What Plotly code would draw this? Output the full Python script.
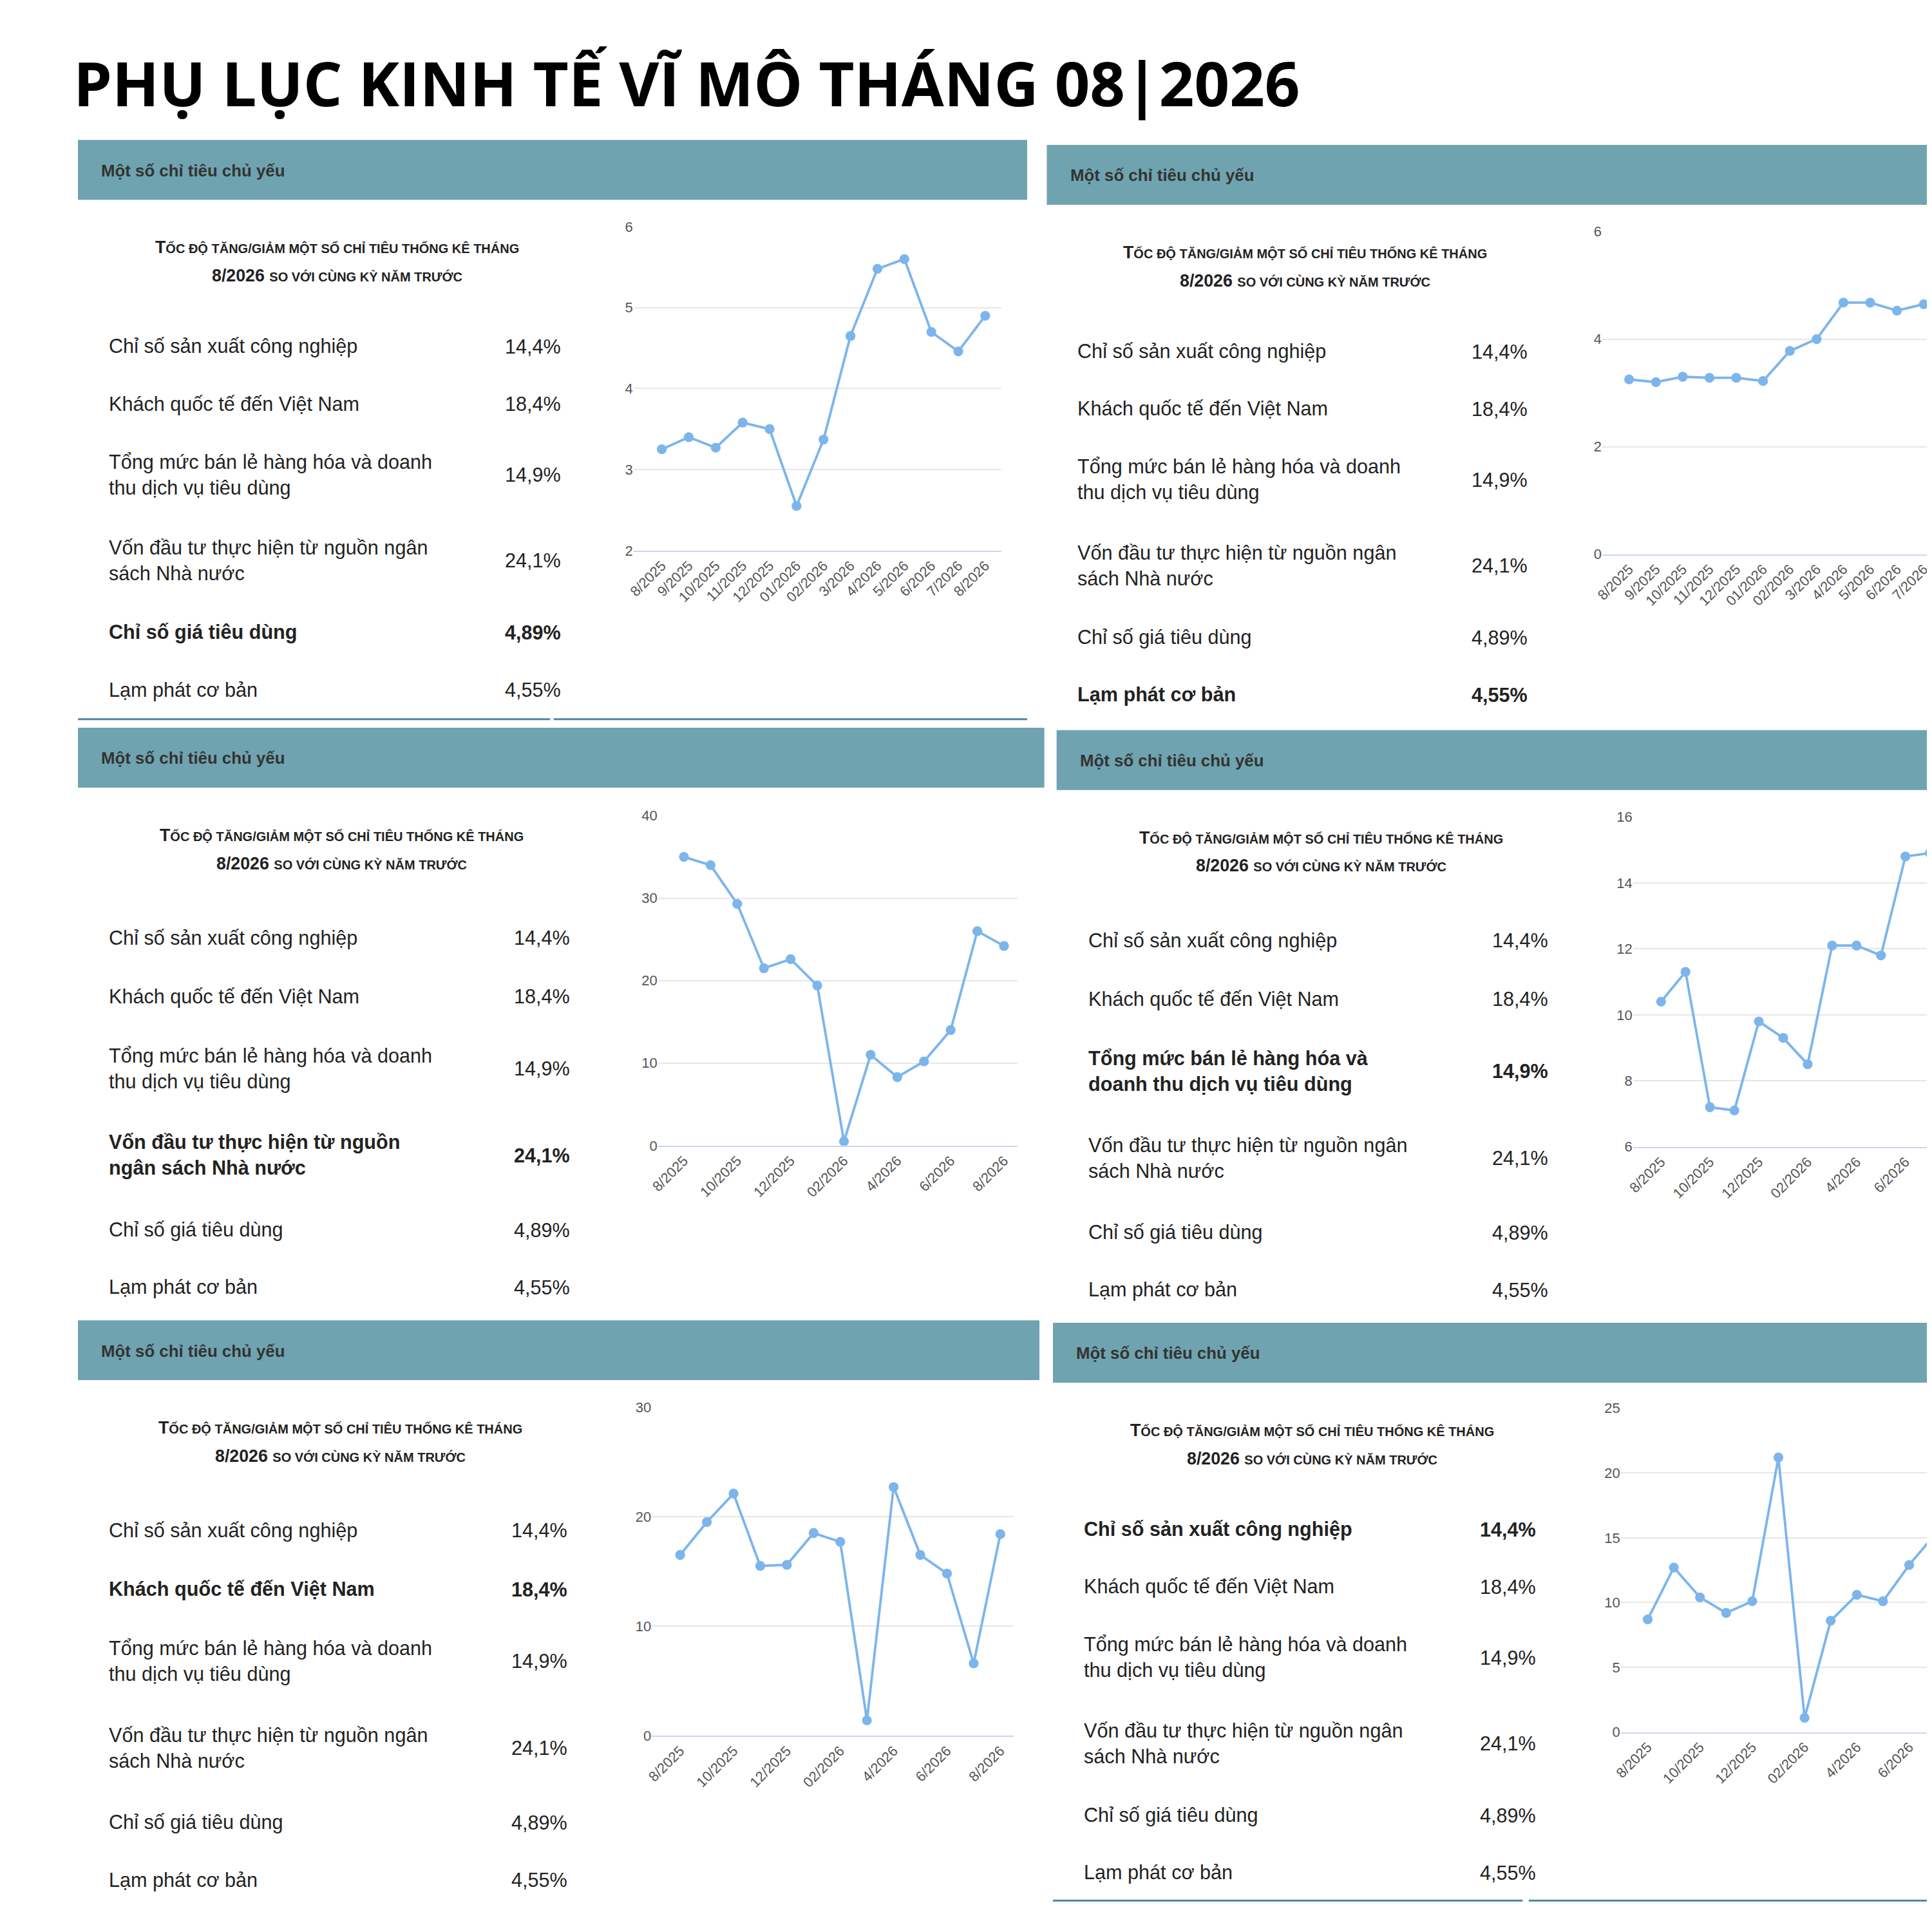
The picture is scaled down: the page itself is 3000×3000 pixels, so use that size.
import plotly.graph_objects as go

months = ["8/2025","9/2025","10/2025","11/2025","12/2025","01/2026","02/2026",
          "3/2026","4/2026","5/2026","6/2026","7/2026","8/2026"]
cpi = [3.25,3.4,3.27,3.58,3.5,2.55,3.37,4.65,5.48,5.6,4.7,4.46,4.9]
core = [3.25,3.2,3.3,3.28,3.28,3.22,3.78,4.0,4.68,4.68,4.53,4.65,4.55]
invest = [35,34,29.3,21.5,22.6,19.4,0.5,11,8.3,10.2,14,26,24.2]
retail = [10.4,11.3,7.2,7.1,9.8,9.3,8.5,12.1,12.1,11.8,14.8,14.9,14.9]
visitors = [16.5,19.5,22.1,15.5,15.6,18.5,17.7,1.4,22.7,16.5,14.8,6.6,18.4]
industry = [8.7,12.7,10.4,9.2,10.1,21.2,1.1,8.6,10.6,10.1,12.9,15.3,14.4]

row_labels = ["Chỉ số sản xuất công nghiệp","Khách quốc tế đến Việt Nam",
              "Tổng mức bán lẻ hàng hóa và doanh<br>thu dịch vụ tiêu dùng",
              "Vốn đầu tư thực hiện từ nguồn ngân<br>sách Nhà nước",
              "Chỉ số giá tiêu dùng","Lạm phát cơ bản"]
row_values = ["14,4%","18,4%","14,9%","24,1%","4,89%","4,55%"]

S = 3000/1568
def X(d): return d/1568
def Y(d): return 1-d/1568
def F(d): return d*S

fig = go.Figure()
shapes, ann = [], []
FONT = "Liberation Sans"
TEAL = "#6fa3b0"

ann.append(dict(x=X(47), y=Y(57), xref="paper", yref="paper", xanchor="left", yanchor="middle",
                text="<b>PHỤ LỤC KINH TẾ VĨ MÔ THÁNG 08|2026</b>", showarrow=False,
                font=dict(family="Open Sans", size=F(50), color="#000")))

# panel specs: header x0,x1,top ; text x, value x ; spacing type ; bold row ; series; axis
panels = [
 dict(hx=(52,826), ht=104, tx=76, vx=447, sp="a", bold=4, data=cpi, dom=(505,805), rng=(-1.05,12.6), yr=(2,6), dt=1, yt=(175,440), step=1),
 dict(hx=(842,1568), ht=108, tx=866, vx=1235, sp="a", bold=5, data=core, dom=(1295,1568), rng=(-1.0,11.5), yr=(0,6), dt=2, yt=(179,443), step=1),
 dict(hx=(52,840), ht=585, tx=76, vx=454, sp="b", bold=3, data=invest, dom=(525,818), rng=(-0.97,12.5), yr=(0,40), dt=10, yt=(657,927), step=2),
 dict(hx=(850,1568), ht=587, tx=875, vx=1252, sp="b", bold=2, data=retail, dom=(1320,1568), rng=(-1.15,11.3), yr=(6,16), dt=2, yt=(658,928), step=2),
 dict(hx=(52,836), ht=1070, tx=76, vx=452, sp="b", bold=1, data=visitors, dom=(520,815), rng=(-1.06,12.5), yr=(0,30), dt=10, yt=(1141,1410), step=2),
 dict(hx=(847,1568), ht=1072, tx=871, vx=1242, sp="a", bold=0, data=industry, dom=(1310,1568), rng=(-1.03,11.07), yr=(0,25), dt=5, yt=(1142,1407), step=2),
]
offs = {"a":[169,216,274,344,403,450], "b":[172,220,279,350,411,458]}

small = F(10.5)
big = F(14)
title1 = ("<b>T<span style='font-size:%dpx'>ỐC ĐỘ TĂNG/GIẢM MỘT SỐ CHỈ TIÊU THỐNG KÊ THÁNG</span></b>" % small)
title2 = ("<b>8/2026 <span style='font-size:%dpx'>SO VỚI CÙNG KỲ NĂM TRƯỚC</span></b>" % small)

for i, p in enumerate(panels):
    x0, x1 = p["hx"]; t = p["ht"]
    shapes.append(dict(type="rect", xref="paper", yref="paper", x0=X(x0), x1=X(x1), y0=Y(t+49), y1=Y(t),
                       fillcolor=TEAL, line=dict(width=0), layer="below"))
    ann.append(dict(x=X(x0+18), y=Y(t+25), xref="paper", yref="paper", xanchor="left", yanchor="middle",
                    text="<b>Một số chỉ tiêu chủ yếu</b>", showarrow=False, font=dict(family=FONT, size=F(13.5), color="#333")))
    cx = (p["tx"] + p["vx"]) / 2 + 2
    for k, tt in enumerate([title1, title2]):
        ann.append(dict(x=X(cx), y=Y(t+88+23*k), xref="paper", yref="paper", xanchor="center", yanchor="middle",
                        text=tt, showarrow=False, font=dict(family=FONT, size=big, color="#222")))
    for r in range(6):
        lab = row_labels[r]
        if r == p["bold"] and i == 2:
            lab = "Vốn đầu tư thực hiện từ nguồn<br>ngân sách Nhà nước"
        if r == p["bold"] and i == 3:
            lab = "Tổng mức bán lẻ hàng hóa và<br>doanh thu dịch vụ tiêu dùng"
        val = row_values[r]
        if r == p["bold"]:
            lab = "<b>" + lab + "</b>"; val = "<b>" + val + "</b>"
        yy = Y(t + offs[p["sp"]][r])
        ann.append(dict(x=X(p["tx"]), y=yy, xref="paper", yref="paper", xanchor="left", yanchor="middle", align="left",
                        text=lab, showarrow=False, font=dict(family=FONT, size=F(16), color="#222")))
        ann.append(dict(x=X(p["vx"]), y=yy, xref="paper", yref="paper", xanchor="right", yanchor="middle",
                        text=val, showarrow=False, font=dict(family=FONT, size=F(16), color="#222")))
    ax = "" if i == 0 else str(i+1)
    xs = list(range(len(p["data"])))
    fig.add_trace(go.Scatter(x=xs, y=p["data"], mode="lines+markers", xaxis="x"+ax, yaxis="y"+ax,
                             line=dict(color="#7cb5ec", width=F(2)), marker=dict(color="#7cb5ec", size=F(8)),
                             showlegend=False, cliponaxis=True))
    tv = list(range(0, 13, p["step"]))
    fig.update_layout(**{
        "xaxis"+ax: dict(domain=[X(p["dom"][0]), min(1, X(p["dom"][1]))], range=list(p["rng"]), anchor="y"+ax,
                         tickvals=tv, ticktext=[months[j] for j in tv], tickangle=-45, showgrid=False,
                         showline=True, linecolor="#ccd6eb", linewidth=2, zeroline=False, ticks="",
                         tickfont=dict(family=FONT, size=F(11.5), color="#555")),
        "yaxis"+ax: dict(domain=[Y(p["yt"][1]), Y(p["yt"][0])], range=list(p["yr"]), anchor="x"+ax, dtick=p["dt"],
                         showgrid=True, gridcolor="#e6e6e6", gridwidth=2, zeroline=False, ticks="",
                         tickfont=dict(family=FONT, size=F(11.5), color="#555")),
    })

# bottom rules
for (a, b, yv) in [(52,437,578),(440,826,578),(847,1230,1545),(1235,1568,1545)]:
    shapes.append(dict(type="line", xref="paper", yref="paper", x0=X(a), x1=X(b), y0=Y(yv), y1=Y(yv),
                       line=dict(color="#4f86a8", width=3)))

fig.update_layout(width=3000, height=3000, margin=dict(l=0, r=0, t=0, b=0),
                  paper_bgcolor="white", plot_bgcolor="white", shapes=shapes, annotations=ann)
fig.write_html("out.html")
